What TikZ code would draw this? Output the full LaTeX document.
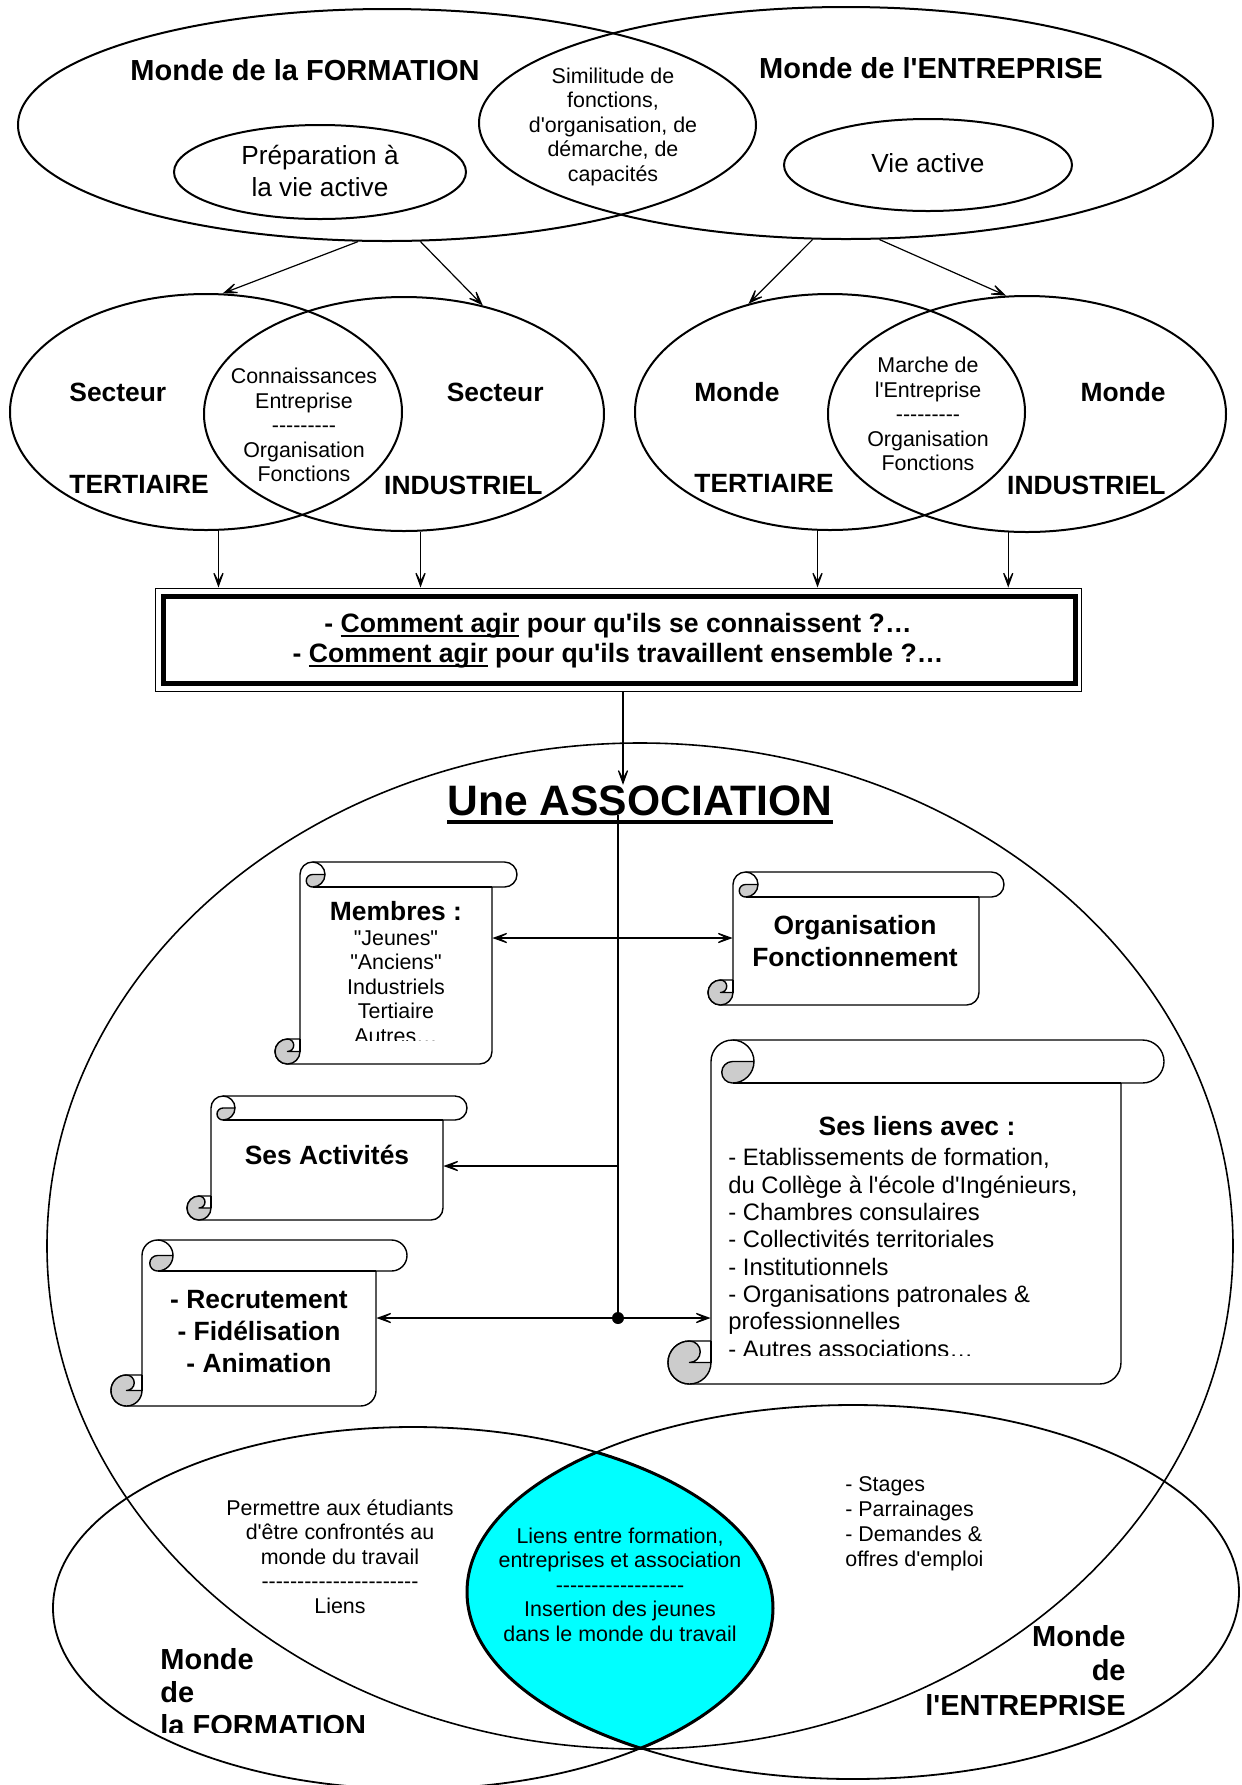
\documentclass[tikz,border=0pt]{standalone}
\usepackage{fontspec}
\setmainfont{Liberation Sans}[Ligatures=TeXOff]
\usepackage{tikz}
\usetikzlibrary{
  arrows.meta,
  shapes.geometric
}
\definecolor{enroule}{gray}{0.8}
\definecolor{lentille}{RGB}{0,255,255}
\tikzstyle{monde}=[draw, ellipse, line width=1pt, inner sep=0pt]
\tikzstyle{fleche}=[-{Stealth[length=11pt, width=8pt, inset=7.5pt]}, line width=0.6pt]
\tikzstyle{fleches}=[{Stealth[length=11pt, width=8pt, inset=7.5pt]}-{Stealth[length=11pt, width=8pt, inset=7.5pt]}, line width=0.6pt]
\tikzstyle{parchemin}=[draw, line width=0.7pt, line join=round]
\tikzstyle{titre}=[font=\fontsize{14.5}{17.25}\selectfont\bfseries, inner sep=0pt]
\tikzstyle{gras}=[font=\fontsize{13.2}{16}\selectfont\bfseries, align=center, inner sep=0pt]
\tikzstyle{moyen}=[font=\fontsize{13.1}{16}\selectfont, align=center, inner sep=0pt]
\tikzstyle{petit}=[font=\fontsize{10.7}{12.2}\selectfont, align=center, inner sep=0pt]
\tikzstyle{liste}=[font=\fontsize{11.9}{13.65}\selectfont, align=left, inner sep=0pt]
\newsavebox\souligbox
\newcommand\souligne[1]{\sbox\souligbox{#1}\rlap{\rule[-2.6pt]{\wd\souligbox}{1.1pt}}\usebox\souligbox}

\begin{document}
\begin{tikzpicture}[x=0.5pt, y=-0.5pt]
    \useasboundingbox (0,0) rectangle (1242,1785);

    % 巻物 (左, 上, 右, 下, 巻きの太さ, 名前)
    \def\rouleau#1#2#3#4#5#6{%
      \filldraw[parchemin, fill=white] ({#1+#5},{#2+#5/2}) arc[start angle=180, end angle=270, radius={#5/2}]
        -- ({#3-#5/2},#2) arc[start angle=270, end angle=450, radius={#5/2}]
        -- ({#3-#5},{#2+#5}) -- ({#3-#5},{#4-#5/2}) arc[start angle=0, end angle=90, radius={#5/2}]
        -- ({#1+#5/2},#4) arc[start angle=90, end angle=270, radius={#5/2}]
        -- ({#1+#5},{#4-#5}) -- cycle;
      \draw[parchemin] ({#1+#5},{#4-#5}) -- ({#1+#5},{#4-#5/2});
      \draw[parchemin] ({#1+1.5*#5},#2) arc[start angle=270, end angle=360, radius={#5/2}];
      \filldraw[parchemin, fill=enroule] ({#1+2*#5},{#2+#5/2}) -- ({#1+1.5*#5},{#2+#5/2})
        arc[start angle=270, end angle=90, radius={#5/4}] arc[start angle=90, end angle=0, radius={#5/2}] -- cycle;
      \draw[parchemin] ({#1+1.5*#5},{#2+#5}) -- ({#3-#5},{#2+#5});
      \filldraw[parchemin, fill=enroule] ({#1+#5},{#4-#5/2}) arc[start angle=0, end angle=270, radius={#5/2}]
        arc[start angle=270, end angle=450, radius={#5/4}] -- cycle;
      \path ({#1+#5},{#2+#5}) -- ({#3-#5},#4) node[midway, inner sep=0pt,
        minimum width={(#3-#1-2*#5)*0.5pt}, minimum height={(#4-#2-#5)*0.5pt}] (#6) {};
    }

    % 上段：二つの世界
    \node[monde, minimum width=369pt, minimum height=116pt] (formation) at (387,125) {};
    \node[monde, minimum width=367pt, minimum height=116pt] (entreprise) at (846,123) {};
    \node[monde, minimum width=146pt, minimum height=47pt] (prepa) at (320,172) {};
    \node[monde, minimum width=144pt, minimum height=46pt] (vie) at (928,165) {};
    \node[titre, anchor=base] (tFormation) at (305,80) {Monde de la FORMATION};
    \node[titre, anchor=base] (tEntreprise) at (931,78) {Monde de l'ENTREPRISE};
    \node[petit, anchor=base] (simil) at (613,181) {Similitude de\\fonctions,\\d'organisation, de\\démarche, de\\capacités};
    \node[moyen, anchor=base] (tPrepa) at (320,196) {Préparation à\\la vie active};
    \node[moyen, anchor=base] (tVie) at (928,172) {Vie active};

    % 中段：四つの楕円
    \node[monde, minimum width=196pt, minimum height=118pt] (secT) at (206,412) {};
    \node[monde, minimum width=200pt, minimum height=117pt] (secI) at (404,414) {};
    \node[monde, minimum width=195pt, minimum height=118pt] (monT) at (830,412) {};
    \node[monde, minimum width=199pt, minimum height=118pt] (monI) at (1027,414) {};
    \node[gras, anchor=base west] (s1) at (69,401) {Secteur};
    \node[gras, anchor=base west] (t1) at (69,493) {TERTIAIRE};
    \node[gras, anchor=base east] (s2) at (544,401) {Secteur};
    \node[gras, anchor=base east] (i1) at (543,494) {INDUSTRIEL};
    \node[petit, anchor=base] (connais) at (304,481.5) {Connaissances\\Entreprise\\---------\\Organisation\\Fonctions};
    \node[gras, anchor=base west] (m1) at (694,401) {Monde};
    \node[gras, anchor=base west] (t2) at (694,492) {TERTIAIRE};
    \node[gras, anchor=base east] (m2) at (1166,401) {Monde};
    \node[gras, anchor=base east] (i2) at (1166,494) {INDUSTRIEL};
    \node[petit, anchor=base] (marche) at (928,470.5) {Marche de\\l'Entreprise\\---------\\Organisation\\Fonctions};

    % 矢印
    \draw[fleche] (formation.256) -- (secT.82);
    \draw[fleche] (formation.286) -- (secI.54);
    \draw[fleche] (entreprise.254) -- (monT.127);
    \draw[fleche] (entreprise.286) -- (monI.100);

    % 問いの枠
    \node[draw, line width=0.5pt, minimum width=463pt, minimum height=51.5pt, inner sep=0pt] (cadre) at (618,639.5) {};
    \draw[line width=2.75pt] ([shift={(4.5pt,-4.5pt)}]cadre.north west) rectangle ([shift={(-3pt,4pt)}]cadre.south east);
    \node[font=\fontsize{13.3}{15}\selectfont\bfseries, align=center, anchor=base, inner sep=0pt] (question) at (618,662)
      {- \souligne{Comment agir} pour qu'ils se connaissent ?…\\- \souligne{Comment agir} pour qu'ils travaillent ensemble ?…};
    \draw[fleche] (secT.276) -- (secT.276 |- cadre.north);
    \draw[fleche] (secI.278) -- (secI.278 |- cadre.north);
    \draw[fleche] (monT.264) -- (monT.264 |- cadre.north);
    \draw[fleche] (monI.261) -- (monI.261 |- cadre.north);

    % 協会
    \node[draw, ellipse, line width=0.8pt, inner sep=0pt, minimum width=593pt, minimum height=503pt] (asso) at (640,1246) {};
    \node[font=\fontsize{21.3}{25}\selectfont\bfseries, anchor=base, inner sep=0pt] (titreAsso) at (640,815) {Une ASSOCIATION};
    \draw[line width=2pt] ([yshift=-3.5pt]titreAsso.base west) -- ([yshift=-3.5pt]titreAsso.base east);
    \coordinate (chute) at ([xshift=2.5pt]cadre.south);
    \draw[fleche] (chute) -- (chute |- titreAsso.north);

    % 巻物
    \rouleau{275}{862}{517}{1064}{25}{membres}
    \rouleau{708}{872}{1004}{1005}{25}{orga}
    \rouleau{187}{1096}{467}{1220}{24}{activ}
    \rouleau{111}{1240}{407}{1406}{31}{recrut}
    \rouleau{668}{1040}{1164}{1384}{43}{liens}

    \node[gras, anchor=base] (tMembres) at (396,920) {Membres :};
    \begin{scope}
      \clip (300,925) rectangle (492,1040);
      \node[petit, anchor=base] (lMembres) at (396,1043) {"Jeunes"\\"Anciens"\\Industriels\\Tertiaire\\Autres…};
    \end{scope}
    \node[gras, anchor=base] (tOrga) at (855,966) {Organisation\\Fonctionnement};
    \node[gras, anchor=base] (tActiv) at (327,1164) {Ses Activités};
    \node[gras, anchor=base] (tRecrut) at (259,1372) {- Recrutement\\- Fidélisation\\- Animation};
    \node[gras, anchor=base] (tLiens) at (917,1135) {Ses liens avec :};
    \begin{scope}
      \clip (711,1140) rectangle (1121,1355);
      \node[liste, anchor=base west] (lLiens) at (728,1357) {- Etablissements de formation,\\du Collège à l'école d'Ingénieurs,\\- Chambres consulaires\\- Collectivités territoriales\\- Institutionnels\\- Organisations patronales \&\\professionnelles\\- Autres associations…};
    \end{scope}

    % 連結線
    \coordinate (hub) at (618,1318);
    \coordinate (hubM) at (618,938);
    \coordinate (hubA) at (618,1166);
    \draw[line width=0.6pt] (titreAsso.base -| hub) -- (hub);
    \fill (hub) circle (3pt);
    \draw[fleches] (membres.east |- hubM) -- (orga.west |- hubM);
    \draw[fleche] (hubA) -- (activ.east |- hubA);
    \draw[fleches] (recrut.east |- hub) -- (liens.west |- hub);

    % 下段：交わり
    \begin{scope}
      \clip (413,1608) ellipse [x radius=360, y radius=181];
      \fill[lentille] (853,1592) ellipse [x radius=386, y radius=187];
    \end{scope}
    \node[monde, line width=0.9pt, minimum width=360pt, minimum height=181pt] (formB) at (413,1608) {};
    \node[monde, line width=0.9pt, minimum width=386pt, minimum height=187pt] (entB) at (853,1592) {};
    \begin{scope}
      \clip (413,1608) ellipse [x radius=360, y radius=181];
      \draw[line width=1.5pt] (853,1592) ellipse [x radius=386, y radius=187];
    \end{scope}
    \begin{scope}
      \clip (853,1592) ellipse [x radius=386, y radius=187];
      \draw[line width=1.5pt] (413,1608) ellipse [x radius=360, y radius=181];
    \end{scope}

    \node[petit, anchor=base] (tPermettre) at (340,1613) {Permettre aux étudiants\\d'être confrontés au\\monde du travail\\----------------------\\Liens};
    \node[petit, anchor=base] (tLentille) at (620,1641) {Liens entre formation,\\entreprises et association\\------------------\\Insertion des jeunes\\dans le monde du travail};
    \node[petit, font=\fontsize{10.7}{12.5}\selectfont, align=left, anchor=base west] (tStages) at (845,1566) {- Stages\\- Parrainages\\- Demandes \&\\offres d'emploi};
    \node[titre, align=right, anchor=base east] (tEntB) at (1126,1715) {Monde\\de\\l'ENTREPRISE};
    \begin{scope}
      \clip (150,1600) rectangle (420,1732);
      \node[titre, font=\fontsize{14.5}{16.5}\selectfont\bfseries, align=left, anchor=base west] (tFormB) at (160,1735) {Monde\\de\\la FORMATION};
    \end{scope}
  \end{tikzpicture}
\end{document}
